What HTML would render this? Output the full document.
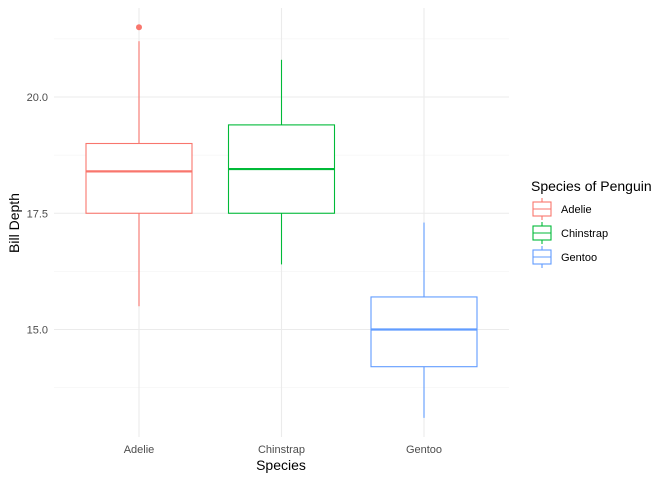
<!DOCTYPE html>
<html><head><meta charset="utf-8"><style>
body{margin:0;background:#fff;font-family:"Liberation Sans",sans-serif}
</style></head><body>
<svg id="chart" width="672" height="480" xmlns="http://www.w3.org/2000/svg" font-family="Liberation Sans, sans-serif">
<g id="grid"></g><g id="marks"></g><g id="axes"></g>
<g>
<text x="531" y="191" font-size="14" fill="#000">Species of Penguin</text>
<g id="legend"></g>
</g>
<text x="281" y="470" font-size="14" text-anchor="middle" fill="#000">Species</text>
<text transform="translate(19,223) rotate(-90)" font-size="14" text-anchor="middle" fill="#000">Bill Depth</text>
</svg>
<script>
const categories=["Adelie","Chinstrap","Gentoo"];
const colors=["#F8766D","#00BA38","#619CFF"];
const lowerWhisker=[15.5,16.4,13.1];
const q1=[17.5,17.5,14.2];
const median=[18.4,18.45,15.0];
const q3=[19.0,19.4,15.7];
const upperWhisker=[21.2,20.8,17.3];
const outliers=[[21.5],[],[]];
const yTicks=[15.0,17.5,20.0];
const yMinor=[13.75,16.25,18.75,21.25];
const ns="http://www.w3.org/2000/svg";
const L=54,R=509,T=8,B=437;
const y=v=>97+(20-v)*46.5;
const x=i=>139+i*142.5;
function mk(p,t,a){const e=document.createElementNS(ns,t);for(const k in a)e.setAttribute(k,a[k]);p.appendChild(e);return e;}
const g=document.getElementById('grid'),m=document.getElementById('marks'),ax=document.getElementById('axes'),lg=document.getElementById('legend');
yMinor.forEach(v=>{const l=mk(g,'line',{x1:L,x2:R,y1:y(v),y2:y(v),stroke:'#f0f0f0','stroke-width':0.6});

});
yTicks.forEach(v=>{const l=mk(g,'line',{x1:L,x2:R,y1:y(v),y2:y(v),stroke:'#ebebeb','stroke-width':1.1});


const t=mk(ax,'text',{x:L-6,y:y(v)+4,'font-size':11,'text-anchor':'end',fill:'#4d4d4d'});t.textContent=v.toFixed(1);

});
categories.forEach((c,i)=>{
const l=mk(g,'line',{x1:x(i),x2:x(i),y1:T,y2:B,stroke:'#ebebeb','stroke-width':1.1});


const t=mk(ax,'text',{x:x(i),y:453,'font-size':11,'text-anchor':'middle',fill:'#4d4d4d'});t.textContent=c;


const bg=mk(m,'g',{stroke:colors[i],fill:'#fff'});


mk(bg,'line',{x1:x(i),x2:x(i),y1:y(upperWhisker[i]),y2:y(q3[i]),'stroke-width':1.1});
mk(bg,'line',{x1:x(i),x2:x(i),y1:y(q1[i]),y2:y(lowerWhisker[i]),'stroke-width':1.1});
mk(bg,'rect',{x:x(i)-53,y:y(q3[i]),width:106,height:y(q1[i])-y(q3[i]),'stroke-width':1.1});
mk(bg,'line',{x1:x(i)-53,x2:x(i)+53,y1:y(median[i]),y2:y(median[i]),'stroke-width':2.2});
outliers[i].forEach(o=>{const p=mk(m,'circle',{cx:x(i),cy:y(o),r:3,fill:colors[i]});

});
const ly=209+i*24;
const k=mk(lg,'g',{stroke:colors[i],fill:'#fff'});


mk(k,'line',{x1:542,x2:542,y1:ly-11,y2:ly+11,'stroke-width':1.1});
mk(k,'rect',{x:533,y:ly-7,width:18,height:14,'stroke-width':1.1});
mk(k,'line',{x1:533,x2:551,y1:ly,y2:ly,'stroke-width':1.1});
const lt=mk(lg,'text',{x:561,y:ly+4,'font-size':11,fill:'#000'});lt.textContent=c;


});
</script>
</body></html>
